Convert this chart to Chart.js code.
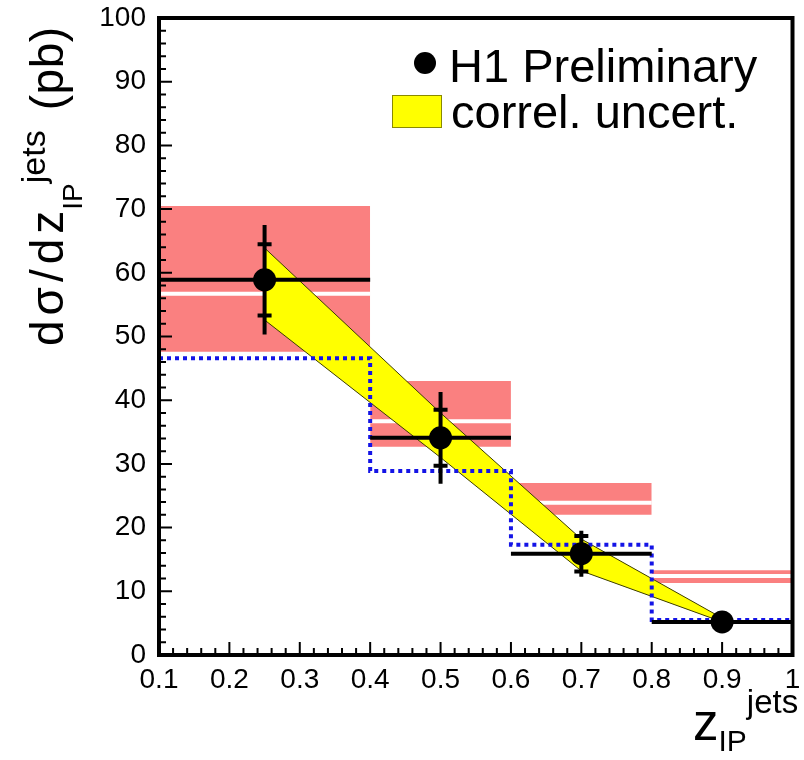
<!DOCTYPE html>
<html>
<head>
<meta charset="utf-8">
<title>H1 Preliminary - dσ/dz</title>
<script src="https://cdn.jsdelivr.net/npm/chart.js@4.4.0/dist/chart.umd.min.js"></script>
<style>
  html, body { margin: 0; padding: 0; background: #fff; overflow: hidden; }
  #wrap { position: relative; width: 804px; height: 760px; font-family: "Liberation Sans", Arial, Helvetica, sans-serif; color: #000; }
  #chart { position: absolute; left: 0; top: 0; }
  .txt { position: absolute; white-space: nowrap; }
  .ytitle { left: 24px; top: 346px; font-size: 46px; line-height: 46px; transform-origin: 0 0; transform: rotate(-90deg); }
  .ytitle .main { letter-spacing: 5px; }
  .ytitle .sub { position: relative; top: 19px; font-size: 28px; margin-left: -4px; }
  .ytitle .sup { position: relative; top: -18px; font-size: 34px; }
  .ytitle .unit { margin-left: 20px; letter-spacing: 0.5px; }
  .xtitle { left: 693px; top: 698px; font-size: 51px; line-height: 50px; }
  .xtitle .sub { position: relative; top: 11px; font-size: 30px; }
  .xtitle .sup { position: relative; top: -27px; font-size: 33px; }
  .leg { font-size: 47px; line-height: 46px; }
  .dot { position: absolute; left: 414px; top: 52px; width: 22px; height: 22px; border-radius: 50%; background: #000; }
  .box { position: absolute; left: 392px; top: 95px; width: 50px; height: 33px; background: #ffff00; box-sizing: border-box; border: 1px solid #8a8a00; }
</style>
</head>
<body>
<div id="wrap">
  <canvas id="chart" width="804" height="760"></canvas>
  <div class="txt ytitle"><span class="main">dσ/dz</span><span class="sub">IP</span><span class="sup">jets</span><span class="unit">(pb)</span></div>
  <div class="txt xtitle">z<span class="sub">IP</span><span class="sup">jets</span></div>
  <div class="dot"></div>
  <div class="txt leg" style="left:449px;top:43px">H1 Preliminary</div>
  <div class="box"></div>
  <div class="txt leg" style="left:451px;top:89px">correl. uncert.</div>
</div>
<script>
// Binning in z_IP^jets
const binLow = [0.1, 0.4, 0.6, 0.8];
const binHigh = [0.4, 0.6, 0.8, 1.0];
const binCenter = [0.25, 0.5, 0.7, 0.9];

// H1 data points (pb) with inner (stat) and outer (total) errors
const xsec = [58.9, 34.1, 15.9, 5.2];
const statErr = [5.6, 4.4, 2.8, 0.6];
const totErr = [8.6, 7.2, 3.6, 1.0];

// correlated uncertainty band
const corrUp = [63.9, 38.0, 18.2, 5.8];
const corrDown = [52.6, 31.0, 13.2, 5.2];

// red prediction band and its central value
const predLow = [47.6, 32.7, 22.0, 11.3];
const predHigh = [70.5, 43.0, 27.0, 13.3];
const predCentral = [56.7, 36.7, 23.9, 12.4];

// blue dotted prediction
const predDotted = [46.6, 28.9, 17.3, 5.5];

// tick labels
const xTickValues = [0.1, 0.2, 0.3, 0.4, 0.5, 0.6, 0.7, 0.8, 0.9, 1.0];
const xTickLabels = ['0.1', '0.2', '0.3', '0.4', '0.5', '0.6', '0.7', '0.8', '0.9', '1'];
const yTickValues = [0, 10, 20, 30, 40, 50, 60, 70, 80, 90, 100];
const yTickLabels = ['0', '10', '20', '30', '40', '50', '60', '70', '80', '90', '100'];

const tickFont = { family: '"Liberation Sans", Arial, Helvetica, sans-serif', size: 28 };
const red = '#fa8080';
const none = 'rgba(0,0,0,0)';

// horizontal pieces, one per bin, separated by gaps
function binSegments(values) {
    return binLow.flatMap((x0, i) => [
        { x: x0, y: values[i] },
        { x: binHigh[i], y: values[i] },
        { x: binHigh[i], y: null }
    ]);
}

const datasets = [];

// Datenpunkte
datasets.push({
    label: 'H1 Preliminary',
    data: binCenter.map((x, i) => ({ x: x, y: xsec[i] })),
    showLine: false,
    pointRadius: 11.5,
    pointBackgroundColor: '#000',
    pointBorderWidth: 0,
    order: 0
});

// kleine Querstriche am Ende der statistischen Fehler
datasets.push({
    data: binCenter.flatMap((x, i) => [{ x: x, y: xsec[i] + statErr[i] }, { x: x, y: xsec[i] - statErr[i] }]),
    showLine: false,
    pointStyle: 'line',
    pointRadius: 7,
    pointBorderWidth: 4,
    pointBorderColor: '#000',
    order: 1
});

// totale Fehler (vertikal)
datasets.push({
    data: binCenter.flatMap((x, i) => [
        { x: x, y: xsec[i] - totErr[i] },
        { x: x, y: xsec[i] + totErr[i] },
        { x: x, y: null }
    ]),
    borderColor: '#000',
    borderWidth: 4,
    order: 1
});

// Binbreite (horizontal)
datasets.push({
    data: binSegments(xsec),
    borderColor: '#000',
    borderWidth: 4,
    order: 1
});

// blau gepunktetes Histogramm
datasets.push({
    data: binLow.map((x, i) => ({ x: x, y: predDotted[i] }))
        .concat([{ x: binHigh[binHigh.length - 1], y: predDotted[predDotted.length - 1] }]),
    stepped: 'before',
    borderColor: '#1414e6',
    borderWidth: 4,
    borderDash: [4, 4],
    order: 2
});

// gelbes Band (correl. uncert.)
datasets.push({
    label: 'correl. uncert.',
    data: binCenter.map((x, i) => ({ x: x, y: corrUp[i] })),
    borderColor: '#3c3c00',
    borderWidth: 1,
    backgroundColor: '#ffff00',
    fill: '+1',
    order: 4
});
datasets.push({
    data: binCenter.map((x, i) => ({ x: x, y: corrDown[i] })),
    borderColor: '#3c3c00',
    borderWidth: 1,
    fill: false,
    order: 3.5
});

// weisse Mittellinie im roten Band
datasets.push({
    data: binSegments(predCentral),
    borderColor: '#fff',
    borderWidth: 4,
    order: 6
});

// rote Boxen, je Bin ein Paar oben/unten
binLow.forEach((x0, i) => {
    datasets.push({
        data: [{ x: x0, y: predHigh[i] }, { x: binHigh[i], y: predHigh[i] }],
        borderColor: none,
        borderWidth: 1,
        backgroundColor: red,
        fill: '+1',
        order: 7
    });
    datasets.push({
        data: [{ x: x0, y: predLow[i] }, { x: binHigh[i], y: predLow[i] }],
        borderColor: none,
        borderWidth: 1,
        fill: false,
        order: 7
    });
});

// Rahmen und nach innen zeigende Ticks
const frameTicks = {
    id: 'frameTicks',
    afterDatasetsDraw(chart) {
        const { ctx, chartArea: a, scales: { x, y } } = chart;
        ctx.save();
        ctx.strokeStyle = '#000';
        ctx.lineWidth = 2;
        ctx.beginPath();
        for (let k = 0; k <= 45; k++) {
            const px = x.getPixelForValue(0.1 + k * 0.02);
            const len = k % 5 === 0 ? 13 : 7;
            ctx.moveTo(px, a.bottom);
            ctx.lineTo(px, a.bottom - len);
        }
        for (let k = 0; k <= 50; k++) {
            const py = y.getPixelForValue(k * 2);
            const len = k % 5 === 0 ? 13 : 7;
            ctx.moveTo(a.left, py);
            ctx.lineTo(a.left + len, py);
        }
        ctx.stroke();
        ctx.lineWidth = 4;
        ctx.strokeRect(a.left, a.top, a.right - a.left, a.bottom - a.top);
        ctx.restore();
    }
};

new Chart(document.getElementById('chart'), {
    type: 'line',
    data: { datasets: datasets },
    options: {
        responsive: false,
        animation: false,
        layout: { padding: { top: 18, right: 3, left: 0, bottom: 0 } },
        plugins: {
            legend: { display: false },
            tooltip: { enabled: false }
        },
        elements: {
            point: { radius: 0, hoverRadius: 0 },
            line: { tension: 0 }
        },
        scales: {
            x: {
                type: 'linear',
                min: 0.1,
                max: 1.0,
                grid: { display: false },
                border: { display: false },
                afterBuildTicks: s => { s.ticks = xTickValues.map(v => ({ value: v })); },
                afterFit: s => { s.height = 105; s.paddingLeft = 0; s.paddingRight = 0; },
                ticks: {
                    callback: (v, i) => xTickLabels[i],
                    font: tickFont,
                    color: '#000',
                    padding: 0,
                    maxRotation: 0,
                    autoSkip: false
                }
            },
            y: {
                type: 'linear',
                min: 0,
                max: 100,
                grid: { display: false },
                border: { display: false },
                afterBuildTicks: s => { s.ticks = yTickValues.map(v => ({ value: v })); },
                afterFit: s => { s.width = 159; s.paddingTop = 0; s.paddingBottom = 0; },
                ticks: {
                    callback: (v, i) => yTickLabels[i],
                    font: tickFont,
                    color: '#000',
                    padding: 5,
                    autoSkip: false
                }
            }
        }
    },
    plugins: [frameTicks]
});
</script>
</body>
</html>
